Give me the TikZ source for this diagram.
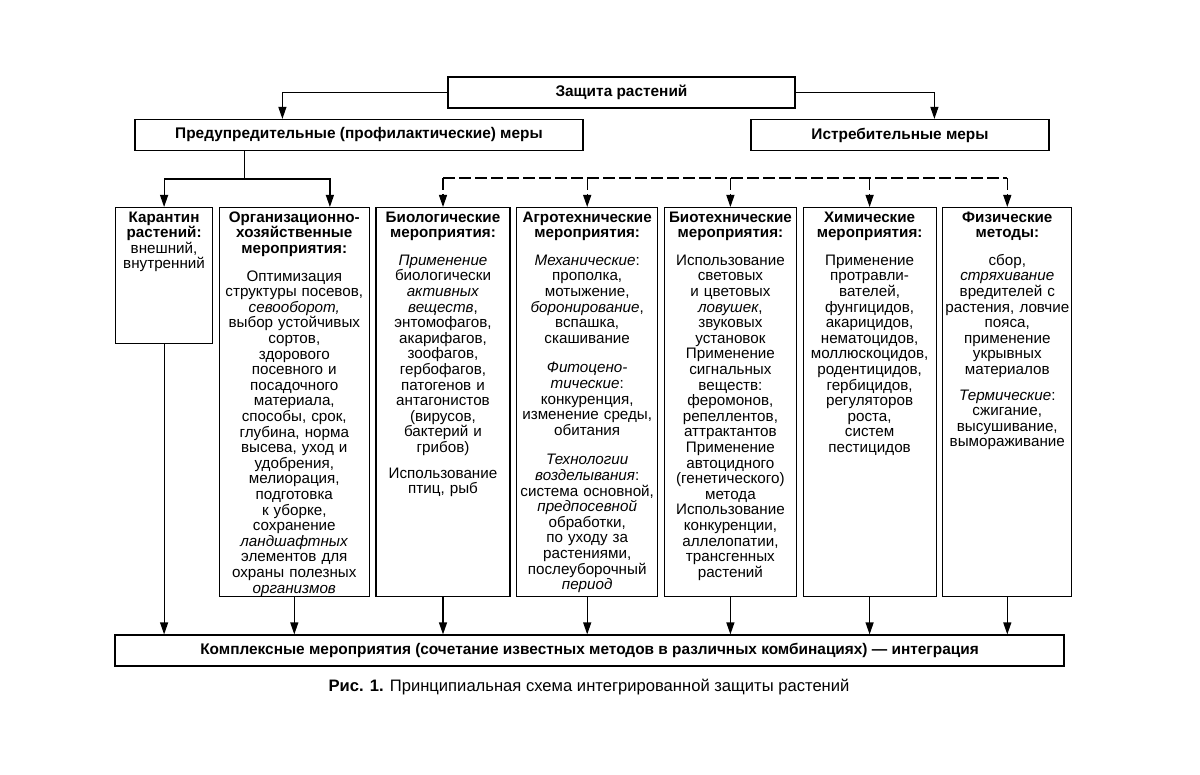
\documentclass[tikz,border=0pt]{standalone}
\usepackage{fontspec}
\setmainfont{Liberation Sans}
\usetikzlibrary{arrows.meta,positioning,calc}

\begin{document}
\begin{tikzpicture}[x=0.5pt,y=-0.5pt,>={Triangle[length=6pt,width=4pt]},node distance=2.75pt,line width=.6pt]
\tikzstyle{mainbox}=[draw,inner sep=0pt,minimum height=15.5pt,font=\fontsize{7.7}{9}\selectfont\bfseries]
\tikzstyle{colbox}=[draw,anchor=north west,inner sep=0pt,minimum height=194.5pt]
\tikzstyle{coltext}=[inner sep=0pt,text width=82pt,align=center,font=\fontsize{7.6}{7.8}\selectfont]
\tikzstyle{bus}=[dash pattern=on 6pt off 2pt]
\useasboundingbox (0,0) rectangle (1200,775);
% top levels
\node[mainbox,minimum width=173.5pt] (plant) at (621.5,92.5) {Защита растений};
\node[mainbox,minimum width=224pt] (prev) at (359,135) {Предупредительные (профилактические) меры};
\node[mainbox,minimum width=149pt] (exterm) at (900,135) {Истребительные меры};
% columns
\node[colbox,minimum width=48.5pt,minimum height=68pt] (quar) at (115,207) {};
\node[colbox,minimum width=75pt,right=of quar.north east,anchor=north west] (org) {};
\node[colbox,minimum width=67pt,right=of org.north east,anchor=north west] (bio) {};
\node[colbox,minimum width=70.5pt,right=of bio.north east,anchor=north west] (agro) {};
\node[colbox,minimum width=66pt,right=of agro.north east,anchor=north west] (biotech) {};
\node[colbox,minimum width=66.5pt,right=of biotech.north east,anchor=north west] (chem) {};
\node[colbox,minimum width=64.5pt,right=of chem.north east,anchor=north west] (phys) {};
\node[coltext,below=2pt of quar.north] (quartext) {{\bfseries Карантин\\растений:}\\внешний,\\внутренний};
\node[coltext,below=2pt of org.north] (orgtext) {{\bfseries Организационно-\\хозяйственные\\мероприятия:}\\[6pt]
Оптимизация\\структуры посевов,\\\textit{севооборот,}\\выбор устойчивых\\сортов,\\здорового\\посевного и\\посадочного\\материала,\\способы, срок,\\глубина, норма\\высева, уход и\\удобрения,\\мелиорация,\\подготовка\\к уборке,\\сохранение\\\textit{ландшафтных}\\элементов для\\охраны полезных\\\textit{организмов}};
\node[coltext,below=2pt of bio.north] (biotext) {{\bfseries Биологические\\мероприятия:}\\[6pt]
\textit{Применение}\\биологически\\\textit{активных}\\\textit{веществ},\\энтомофагов,\\акарифагов,\\зоофагов,\\гербофагов,\\патогенов и\\антагонистов\\(вирусов,\\бактерий и\\грибов)\\[5pt]
Использование\\птиц, рыб};
\node[coltext,below=2pt of agro.north] (agrotext) {{\bfseries Агротехнические\\мероприятия:}\\[6pt]
\textit{Механические}:\\прополка,\\мотыжение,\\\textit{боронирование},\\вспашка,\\скашивание\\[7pt]
\textit{Фитоцено-}\\\textit{тические}:\\конкуренция,\\изменение среды,\\обитания\\[7pt]
\textit{Технологии}\\\textit{возделывания}:\\система основной,\\\textit{предпосевной}\\обработки,\\по уходу за\\растениями,\\послеуборочный\\\textit{период}};
\node[coltext,below=2pt of biotech.north] (biotechtext) {{\bfseries Биотехнические\\мероприятия:}\\[6pt]
Использование\\световых\\и цветовых\\\textit{ловушек},\\звуковых\\установок\\Применение\\сигнальных\\веществ:\\феромонов,\\репеллентов,\\аттрактантов\\Применение\\автоцидного\\(генетического)\\метода\\Использование\\конкуренции,\\аллелопатии,\\трансгенных\\растений};
\node[coltext,below=2pt of chem.north] (chemtext) {{\bfseries Химические\\мероприятия:}\\[6pt]
Применение\\протравли-\\вателей,\\фунгицидов,\\акарицидов,\\нематоцидов,\\моллюскоцидов,\\родентицидов,\\гербицидов,\\регуляторов\\роста,\\систем\\пестицидов};
\node[coltext,below=2pt of phys.north] (phystext) {{\bfseries Физические\\методы:}\\[6pt]
сбор,\\\textit{стряхивание}\\вредителей с\\растения, ловчие\\пояса,\\применение\\укрывных\\материалов\\[5pt]
\textit{Термические}:\\сжигание,\\высушивание,\\вымораживание};
% bottom
\node[mainbox,minimum width=474.5pt] (integ) at (589.5,650.5) {Комплексные мероприятия (сочетание известных методов в различных комбинациях) — интеграция};
\node[font=\fontsize{8.3}{10}\selectfont] (caption) at (589,687) {\textbf{Рис. 1.} Принципиальная схема интегрированной защиты растений};
% connectors
\draw[->] (plant.west) -| ($(prev.north west)+(148,0)$);
\draw[->] (plant.east) -| ($(exterm.north west)+(184,0)$);
\coordinate (pbus) at ($(prev.south west)+(110,28)$);
\draw (prev.south -| pbus) -- (pbus);
\draw[->] (pbus) -| (quar.north);
\draw[->] (pbus) -| ($(org.north east)+(-40,0)$);
\coordinate (ebus) at ($(bio.north)+(0,-29)$);
\draw[bus] (ebus) -- (phys.north |- ebus);
\foreach \c in {bio,agro,biotech,chem,phys}{\draw[->,bus] (\c.north |- ebus) -- (\c.north);}
\foreach \c in {quar,org,bio,agro,biotech,chem,phys}{\draw[->] (\c.south) -- (\c.south |- integ.north);}
\end{tikzpicture}
\end{document}
